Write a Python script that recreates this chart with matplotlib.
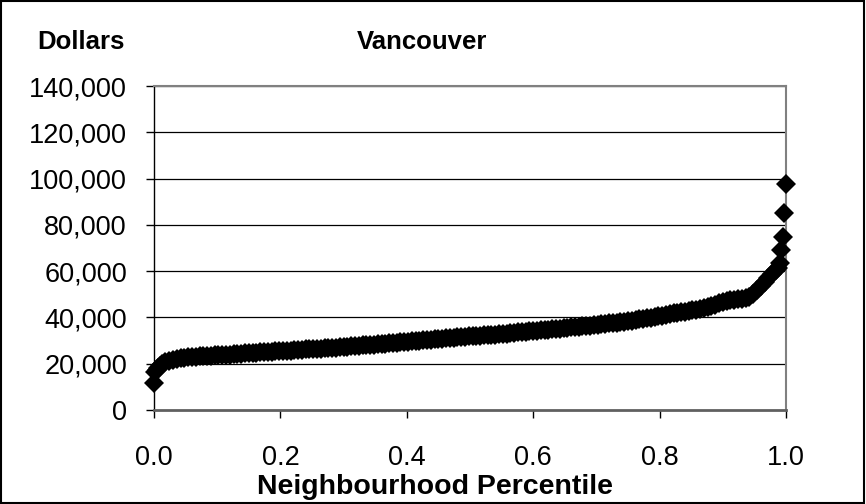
import numpy as np
import matplotlib
matplotlib.use("Agg")
import matplotlib.pyplot as plt
from matplotlib import ticker
from matplotlib.patches import Rectangle

plt.rcParams['font.family'] = ['Liberation Sans', 'DejaVu Sans']

# lowest few neighbourhoods
head_pct = [0.0, 0.002, 0.004, 0.006, 0.009]
head_val = [11700, 16300, 17300, 18200, 19000]

# main body, one value every 0.006 of percentile starting at 0.012
body_start = 0.012
body_step = 0.006
body_val = [
    19800, 20700, 21300, 21800, 22100, 22400, 22600, 22800, 22900, 23100, 23200,
    23300, 23350, 23450, 23550, 23650, 23750, 23850, 23950, 24050, 24150, 24300, 24450, 24600,
    24700, 24800, 24900, 25000, 25100, 25200, 25300, 25400, 25500, 25600, 25700, 25850, 25950,
    26050, 26150, 26250, 26350, 26450, 26550, 26650, 26750, 26850, 26950, 27100, 27250, 27400,
    27550, 27650, 27800, 27900, 28050, 28200, 28300, 28450, 28550, 28700, 28800, 28950, 29100,
    29250, 29400, 29550, 29700, 29850, 30000, 30150, 30300, 30450, 30600, 30700, 30850, 31000,
    31100, 31250, 31400, 31500, 31650, 31950, 32000, 32050, 32100, 32200, 32300, 32450, 32550,
    32700, 32800, 32900, 33300, 33400, 33500, 33650, 33800, 33950, 34100, 34250, 34400, 34550,
    34700, 34850, 35000, 35150, 35300, 35500, 35650, 35800, 35950, 36100, 36300, 36450, 36650,
    36850, 37000, 37200, 37400, 37600, 37800, 38000, 38200, 38450, 38650, 38900, 39150, 39400,
    39650, 39900, 40200, 40500, 40800, 41100, 41400, 41700, 42000, 42300, 42550, 42800, 43050,
    43250, 43600, 44000, 44500, 45000, 45500, 46200, 46700, 47100, 47400, 47600, 47800, 48000,
    48300, 48800, 50000, 51800, 53500, 55200, 57000, 58800, 60500,
]

# top outliers
tail_pct = [0.988, 0.991, 0.992, 0.995, 0.997, 1.0]
tail_val = [61500, 63500, 69100, 74900, 85100, 97600]

x_ticks = [0.0, 0.2, 0.4, 0.6, 0.8, 1.0]
y_ticks = [0, 20000, 40000, 60000, 80000, 100000, 120000, 140000]

body_pct = body_start + body_step * np.arange(len(body_val))
pct = np.concatenate([head_pct, body_pct, tail_pct])
dollars = np.concatenate([head_val, body_val, tail_val])

fig = plt.figure(figsize=(8.66, 5.04), dpi=100)
ax = fig.add_axes([154/866, 1 - 410/504, 632/866, 324/504])

for y in y_ticks[1:]:
    ax.axhline(y, color='black', lw=0.9, zorder=1)

ax.plot(pct, dollars, linestyle='none', marker='D', markersize=10.5,
        color='black', markeredgewidth=0, zorder=3, clip_on=False)

ax.set_xlim(0, 1)
ax.set_ylim(0, 140000)
ax.set_xticks(x_ticks)
ax.set_yticks(y_ticks)
ax.xaxis.set_major_formatter(ticker.FormatStrFormatter('%.1f'))
ax.yaxis.set_major_formatter(ticker.FuncFormatter(lambda v, p: "{:,.0f}".format(v)))
ax.tick_params(axis='both', direction='out', labelsize=19.5, length=6, width=1,
               color='black')
ax.tick_params(axis='x', pad=19)
ax.tick_params(axis='y', pad=13.5)

for s in ['top', 'right']:
    ax.spines[s].set_color('#808080')
    ax.spines[s].set_linewidth(1.5)
ax.spines['bottom'].set_color('#606060')
ax.spines['bottom'].set_linewidth(2)
ax.spines['left'].set_color('black')
ax.spines['left'].set_linewidth(1)

fig.text(81/866, 1 - 42/504, "Dollars", fontsize=18.5, fontweight='bold',
         ha='center', va='center')
fig.text(422/866, 1 - 42/504, "Vancouver", fontsize=18.5, fontweight='bold',
         ha='center', va='center')
fig.text(435/866, 1 - 487/504, "Neighbourhood Percentile", fontsize=20.5,
         fontweight='bold', ha='center', va='center')

fig.patches.append(Rectangle((0.001, 0.002), 0.997, 0.996, transform=fig.transFigure,
                             fill=False, edgecolor='black', lw=1.5))

fig.savefig("out.png", dpi=100)
